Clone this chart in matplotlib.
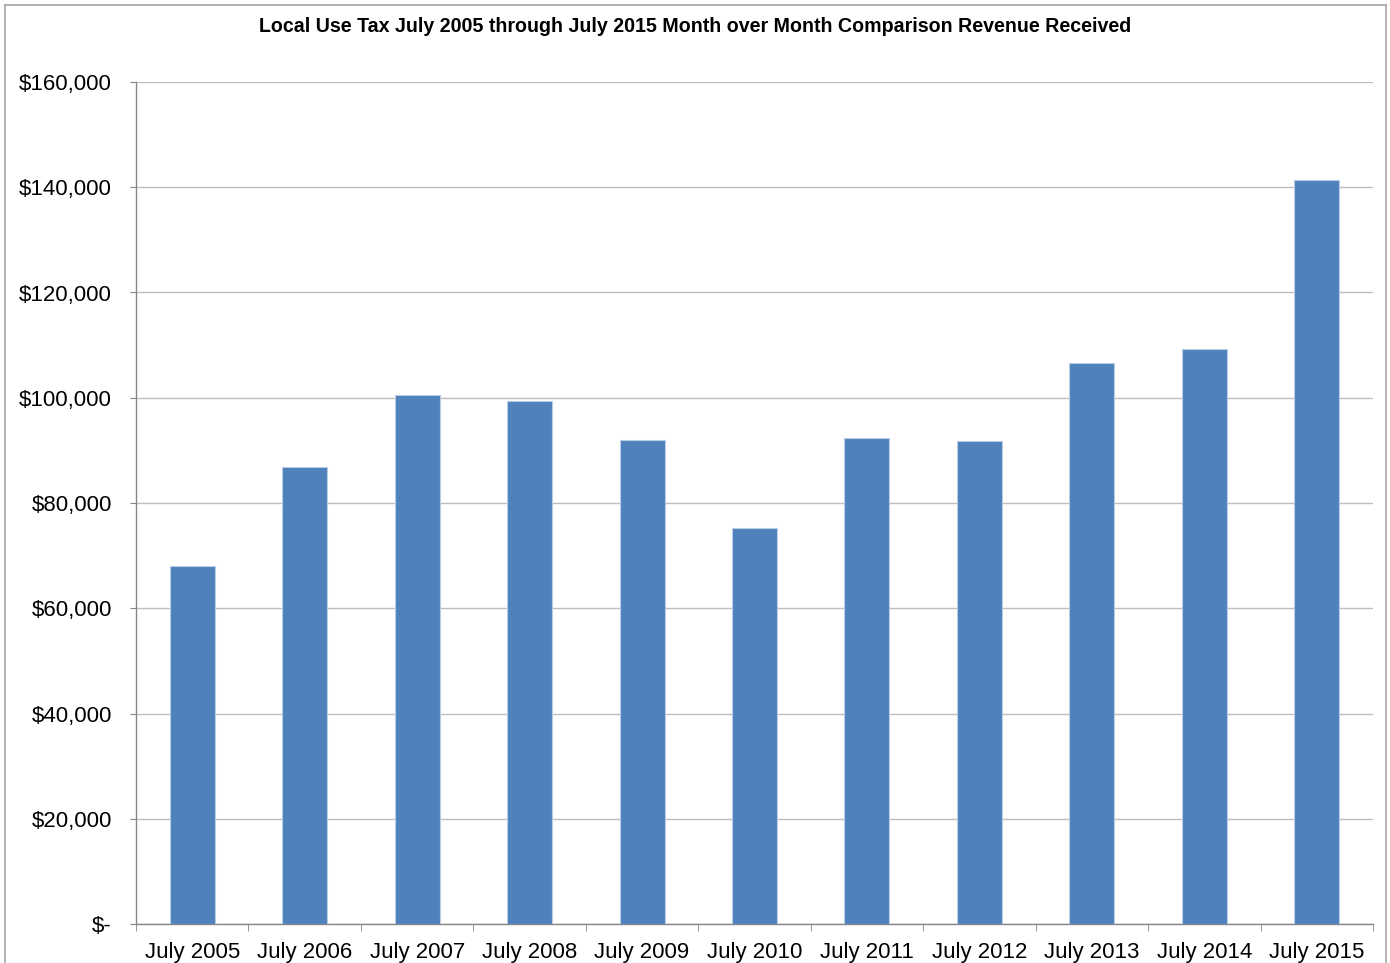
import matplotlib
matplotlib.use("Agg")
import matplotlib.pyplot as plt
from matplotlib.lines import Line2D
from matplotlib.ticker import FuncFormatter

categories = ["July 2005", "July 2006", "July 2007", "July 2008", "July 2009",
              "July 2010", "July 2011", "July 2012", "July 2013", "July 2014",
              "July 2015"]
revenue = [68000, 86900, 100600, 99400, 92000, 75300, 92300, 91800, 106600,
           109300, 141400]
y_ticks = [0, 20000, 40000, 60000, 80000, 100000, 120000, 140000, 160000]
title = "Local Use Tax July 2005 through July 2015 Month over Month Comparison Revenue Received"

plt.rcParams["font.family"] = ["Liberation Sans", "DejaVu Sans"]

W, H = 1390, 963
fig = plt.figure(figsize=(W / 100, H / 100), dpi=100)
ax = fig.add_axes([136 / W, 1 - 924 / H, (1373 - 136) / W, (924 - 82) / H])

x = list(range(len(categories)))
ax.bar(x, revenue, width=0.4, color="#4F81BD", edgecolor="#B9CDE5",
       linewidth=0.8, zorder=3)

ax.set_xlim(-0.5, len(categories) - 0.5)
ax.set_ylim(0, 160000)
ax.set_yticks(y_ticks)
ax.yaxis.set_major_formatter(FuncFormatter(
    lambda v, _: "$-" if v == 0 else f"${v:,.0f}"))
ax.set_xticks(x)
ax.set_xticklabels(categories)
ax.set_xticks([i + 0.5 for i in range(-1, len(categories))], minor=True)

ax.grid(axis="y", color="#BEBEBE", linewidth=1.0, zorder=0)
for side in ("top", "right"):
    ax.spines[side].set_visible(False)
for side in ("left", "bottom"):
    ax.spines[side].set_color("#868686")
    ax.spines[side].set_linewidth(1.0)

ax.tick_params(axis="y", which="major", direction="out", length=4.3,
               color="#868686", labelsize=16, pad=13)
ax.tick_params(axis="x", which="major", length=0, labelsize=16, pad=13)
ax.tick_params(axis="x", which="minor", direction="out", length=5,
               color="#868686")

fig.text(0.5, 1 - 27 / H, title, ha="center", va="center",
         fontsize=14.1, fontweight="bold")

# Chart frame around the figure
fc = "#A6A6A6"
fig.add_artist(Line2D([5 / W, 5 / W], [0, 1 - 5 / H], color=fc, lw=1.2))
fig.add_artist(Line2D([5 / W, 1386 / W], [1 - 5 / H, 1 - 5 / H], color=fc, lw=1.2))
fig.add_artist(Line2D([1386 / W, 1386 / W], [0, 1 - 5 / H], color=fc, lw=1.2))

fig.savefig("out.png", dpi=100, facecolor="white")
